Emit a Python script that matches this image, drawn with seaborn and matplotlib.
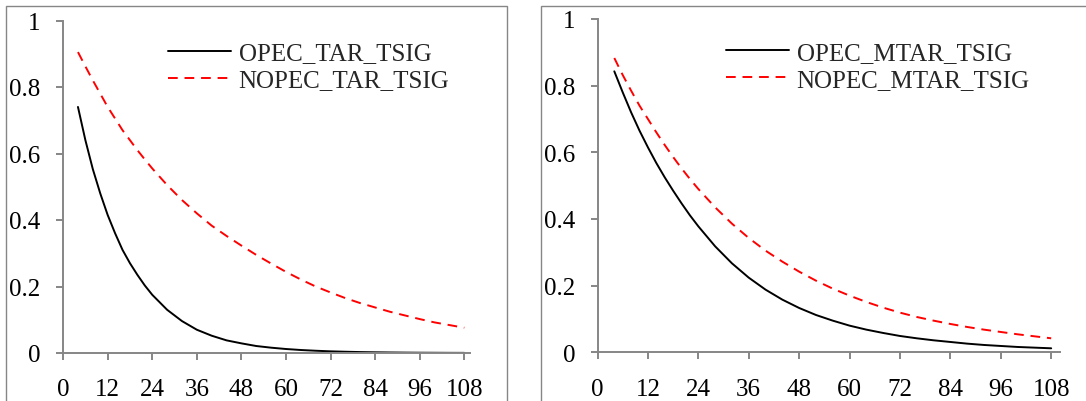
import matplotlib
matplotlib.use("Agg")
import matplotlib.pyplot as plt
import seaborn as sns
import pandas as pd
from matplotlib.patches import Rectangle

months = [4, 6, 8, 10, 12, 14, 16, 18, 20, 22, 24, 28, 32, 36, 40, 44, 48, 52, 56,
          60, 64, 68, 72, 76, 80, 84, 88, 92, 96, 100, 104, 108]

opec_tar = [0.74, 0.64, 0.553, 0.48, 0.415, 0.36, 0.31, 0.27, 0.235, 0.203, 0.175,
            0.13, 0.096, 0.070, 0.052, 0.038, 0.029, 0.021, 0.016, 0.012, 0.009,
            0.0068, 0.005, 0.0038, 0.0028, 0.0021, 0.0016, 0.0012, 0.0009, 0.0007,
            0.0005, 0.0004]
nopec_tar = [0.905, 0.862, 0.82, 0.78, 0.74, 0.705, 0.67, 0.64, 0.61, 0.582, 0.555,
             0.505, 0.46, 0.42, 0.383, 0.352, 0.323, 0.295, 0.269, 0.244, 0.221,
             0.2, 0.182, 0.165, 0.15, 0.137, 0.124, 0.113, 0.102, 0.092, 0.084,
             0.076]
opec_mtar = [0.843, 0.78, 0.72, 0.665, 0.615, 0.568, 0.525, 0.485, 0.447, 0.411,
             0.378, 0.318, 0.267, 0.224, 0.188, 0.158, 0.133, 0.112, 0.095, 0.080,
             0.068, 0.058, 0.049, 0.042, 0.036, 0.031, 0.026, 0.022, 0.019, 0.016,
             0.014, 0.012]
nopec_mtar = [0.883, 0.832, 0.785, 0.74, 0.70, 0.66, 0.622, 0.586, 0.552, 0.52, 0.49,
              0.435, 0.386, 0.343, 0.305, 0.272, 0.242, 0.215, 0.191, 0.17, 0.151,
              0.134, 0.119, 0.106, 0.095, 0.085, 0.076, 0.068, 0.061, 0.054, 0.048,
              0.042]

left_labels = ["OPEC_TAR_TSIG", "NOPEC_TAR_TSIG"]
right_labels = ["OPEC_MTAR_TSIG", "NOPEC_MTAR_TSIG"]
x_ticks = [0, 12, 24, 36, 48, 60, 72, 84, 96, 108]
y_ticks = [0, 0.2, 0.4, 0.6, 0.8, 1]
y_ticklabels = ["0", "0.2", "0.4", "0.6", "0.8", "1"]

sns.set_style("white")
plt.rcParams['font.family'] = ['Liberation Serif', 'DejaVu Serif']
plt.rcParams['font.size'] = 18

W, H = 1086, 402
fig = plt.figure(figsize=(W / 100, H / 100), dpi=100)

grey = "#868686"
FS = 18

# outer chart frames
fig.patches.append(Rectangle((6 / W, -0.1), (507 - 6) / W, 1.1 - 7 / H,
                             transform=fig.transFigure, fill=False,
                             edgecolor=grey, linewidth=1.0))
fig.patches.append(Rectangle((541 / W, -0.1), (W + 20 - 541) / W, 1.1 - 7 / H,
                             transform=fig.transFigure, fill=False,
                             edgecolor=grey, linewidth=1.0))

def px_axes(l, r, t, b):
    return [l / W, 1 - b / H, (r - l) / W, (b - t) / H]

ax1 = fig.add_axes(px_axes(63.1, 469.5, 21.5, 354))
ax2 = fig.add_axes(px_axes(597.5, 1060, 20, 353.3))

def draw(ax, s1, s2, labels, xlim, leg_anchor):
    df = pd.DataFrame({"month": months * 2,
                       "value": s1 + s2,
                       "series": [labels[0]] * len(months) + [labels[1]] * len(months)})
    sns.lineplot(data=df, x="month", y="value", hue="series", style="series",
                 palette={labels[0]: "black", labels[1]: "#ff0000"},
                 dashes={labels[0]: "", labels[1]: (5, 3.5)},
                 linewidth=1.4, ax=ax, legend=True)
    ax.set_xlim(*xlim)
    ax.set_ylim(0, 1)
    ax.set_xticks(x_ticks)
    ax.set_yticks(y_ticks)
    ax.set_yticklabels(y_ticklabels)
    ax.set_xlabel("")
    ax.set_ylabel("")
    for side in ["top", "right"]:
        ax.spines[side].set_visible(False)
    for side in ["left", "bottom"]:
        ax.spines[side].set_color(grey)
        ax.spines[side].set_linewidth(1.4)
    ax.tick_params(axis="both", which="both", direction="out", length=5.2,
                   width=1.4, color=grey, labelsize=FS, labelcolor="black",
                   left=True, bottom=True)
    ax.tick_params(axis="x", pad=13)
    ax.tick_params(axis="y", pad=11)
    ax.set_facecolor("white")
    handles, lbls = ax.get_legend_handles_labels()
    leg = ax.legend(handles, lbls, loc="upper left", bbox_to_anchor=leg_anchor,
                    bbox_transform=fig.transFigure, frameon=False, borderpad=0,
                    borderaxespad=0, handlelength=2.5, handletextpad=0.32,
                    labelspacing=0.18, fontsize=FS)
    for h in leg.get_lines():
        h.set_linewidth(1.4)

draw(ax1, opec_tar, nopec_tar, left_labels, (0, 109.4), (168 / W, 1 - 43 / H))
draw(ax2, opec_mtar, nopec_mtar, right_labels, (0, 110.1), (726 / W, 1 - 42.5 / H))

fig.savefig("out.png", dpi=100, facecolor="white")
